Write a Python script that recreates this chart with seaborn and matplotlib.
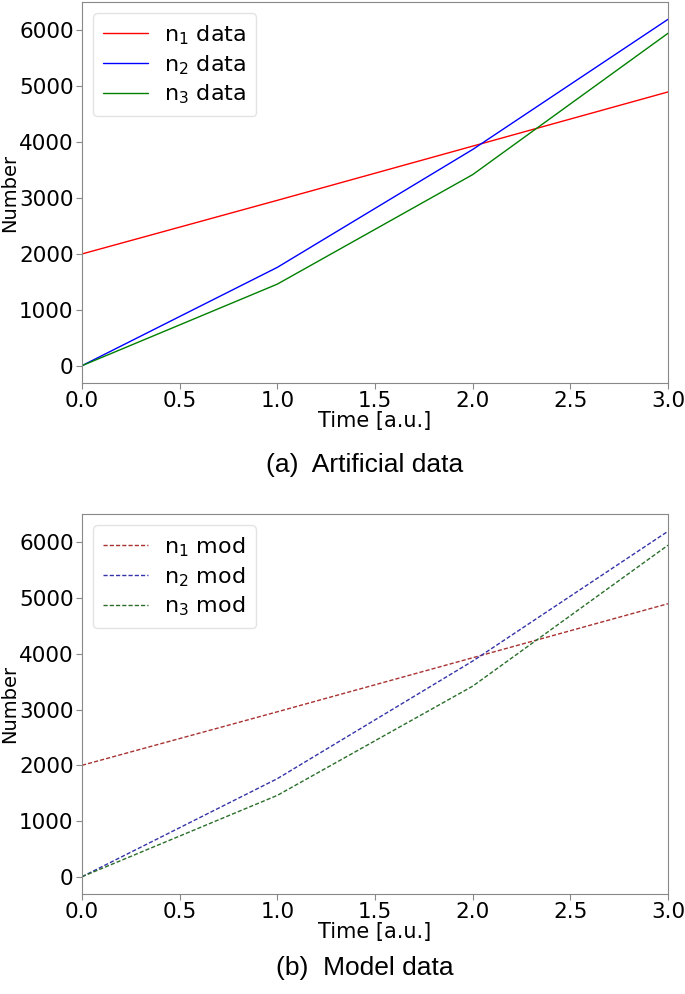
import numpy as np
import pandas as pd
import seaborn as sns
import matplotlib.pyplot as plt

# values
time = [0.0, 1.0, 2.0, 3.0]
n1 = [2000, 2960, 3930, 4900]
n2 = [0, 1760, 3870, 6200]
n3 = [0, 1460, 3420, 5950]

data_colors = ['red', 'blue', 'green']
mod_colors = ['#a83232', '#3434a8', '#2a6e2a']

sns.set_style('ticks')
plt.rcParams['font.family'] = ['DejaVu Sans']
plt.rcParams.update({'text.color': 'black', 'axes.labelcolor': 'black',
                     'xtick.color': 'black', 'ytick.color': 'black'})

df = pd.DataFrame({
    'time': time * 3,
    'number': n1 + n2 + n3,
    'series': ['n1'] * 4 + ['n2'] * 4 + ['n3'] * 4,
})

W, H = 685, 994
fig = plt.figure(figsize=(W / 100, H / 100), dpi=100)
ax_a = fig.add_axes([82 / W, 1 - 383 / H, 586 / W, 381 / H])
ax_b = fig.add_axes([82 / W, 1 - 894 / H, 586 / W, 380 / H])


def draw(ax, suffix, colors, ls):
    for i, s in enumerate(['n1', 'n2', 'n3']):
        sub = df[df['series'] == s]
        sns.lineplot(data=sub, x='time', y='number', ax=ax, color=colors[i],
                     linewidth=1.0, linestyle=ls,
                     label=r'n$_{%s}$ %s' % (s[1], suffix))
    ax.set_xlim(0, 3)
    ax.set_ylim(-310, 6510)
    ax.set_xticks(np.arange(0, 3.01, 0.5))
    ax.set_yticks(range(0, 6001, 1000))
    ax.tick_params(labelsize=15.5, color='#888888', length=4, pad=2)
    ax.set_xlabel('Time [a.u.]', fontsize=15, labelpad=0)
    ax.set_ylabel('Number', fontsize=14, labelpad=0)
    ax.yaxis.set_label_coords(-0.108, 0.5)
    for sp in ax.spines.values():
        sp.set_color('#888888')
        sp.set_visible(True)
    ax.legend(loc='upper left', fontsize=16, handlelength=2.0,
              handletextpad=0.75, borderpad=0.45, labelspacing=0.28,
              edgecolor='#dddddd')


draw(ax_a, 'data', data_colors, '-')
draw(ax_b, 'mod', mod_colors, (0, (3, 1.5)))

fig.text(0.533, 1 - 465 / H, '(a)  Artificial data', ha='center', va='center',
         fontsize=19, family='Liberation Sans')
fig.text(0.533, 1 - 968 / H, '(b)  Model data', ha='center', va='center',
         fontsize=19, family='Liberation Sans')

fig.savefig('out.png', dpi=100)
